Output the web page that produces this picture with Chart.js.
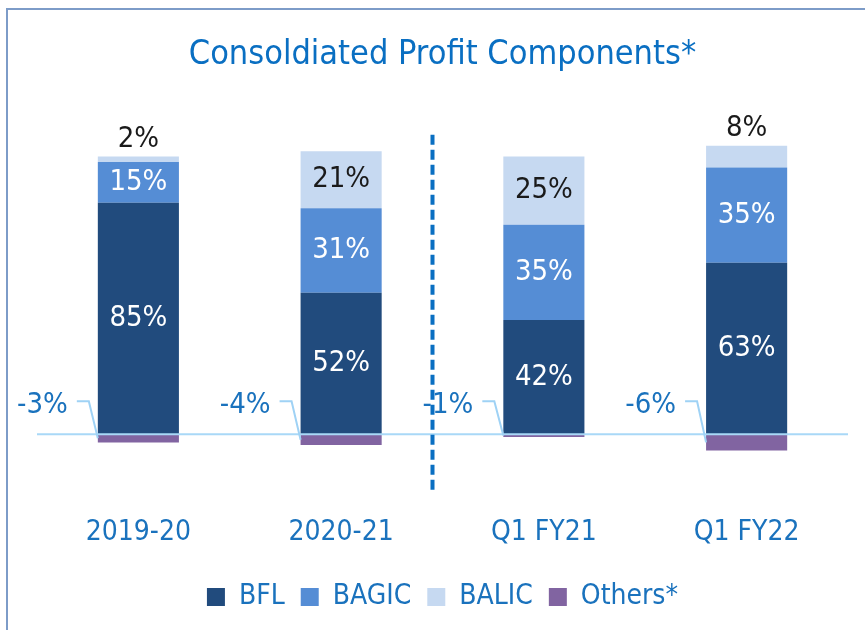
<!DOCTYPE html>
<html>
<head>
<meta charset="utf-8">
<script src="https://cdn.jsdelivr.net/npm/chart.js@4/dist/chart.umd.min.js"></script>
<style>
  html, body { margin: 0; padding: 0; background: #fff; overflow: hidden; }
  #frame {
    position: absolute; left: 6px; top: 8px; width: 900px; height: 700px;
    border-left: 2px solid #7d9cc8; border-top: 2px solid #7d9cc8;
  }
  #wrap { position: absolute; left: 0; top: 0; width: 865px; height: 630px; }
</style>
</head>
<body>
<div id="frame"></div>
<div id="wrap"><canvas id="profitChart" width="865" height="630"></canvas></div>
<script>
// chart data
const categories = ['2019-20', '2020-21', 'Q1 FY21', 'Q1 FY22'];
const bflValues = [85, 52, 42, 63];
const bagicValues = [15, 31, 35, 35];
const balicValues = [2, 21, 25, 8];
const othersValues = [-3, -4, -1, -6];

const FONT = "'DejaVu Sans Condensed', 'DejaVu Sans', sans-serif";
const BLUE_TEXT = '#1a72bd';

// labels inside bars, negative labels with leader lines, zero line, divider
const labelPlugin = {
  id: 'profitLabels',
  afterDatasetsDraw(chart) {
    const ctx = chart.ctx;
    const area = chart.chartArea;
    const yScale = chart.scales.y;
    const xScale = chart.scales.x;
    const zeroY = yScale.getPixelForValue(0);

    ctx.save();
    // zero line
    ctx.strokeStyle = '#a9d8f7';
    ctx.lineWidth = 2;
    ctx.beginPath();
    ctx.moveTo(area.left, zeroY);
    ctx.lineTo(area.right, zeroY);
    ctx.stroke();

    // dashed divider between annual and quarterly
    const midX = (xScale.getPixelForValue(1) + xScale.getPixelForValue(2)) / 2 - 10;
    ctx.strokeStyle = '#0a6fc2';
    ctx.lineWidth = 4;
    ctx.setLineDash([10, 5]);
    ctx.beginPath();
    ctx.moveTo(midX, area.top);
    ctx.lineTo(midX, area.bottom);
    ctx.stroke();
    ctx.setLineDash([]);

    ctx.font = '29px ' + FONT;
    ctx.textAlign = 'center';
    ctx.textBaseline = 'middle';

    chart.data.datasets.forEach((ds, di) => {
      const meta = chart.getDatasetMeta(di);
      meta.data.forEach((bar, i) => {
        const v = ds.data[i];
        const txt = v + '%';
        if (v < 0) {
          const left = bar.x - bar.width / 2;
          const ly = zeroY - 29;
          ctx.fillStyle = BLUE_TEXT;
          ctx.textAlign = 'right';
          ctx.fillText(txt, left - 30, ly);
          ctx.strokeStyle = '#9fd2f5';
          ctx.lineWidth = 2;
          ctx.beginPath();
          ctx.moveTo(left - 21, ly - 4);
          ctx.lineTo(left - 9, ly - 4);
          ctx.lineTo(left, (bar.y + bar.base) / 2);
          ctx.stroke();
          ctx.textAlign = 'center';
          return;
        }
        let y = (bar.y + bar.base) / 2;
        if (v < 10) y = bar.y - 17;
        ctx.fillStyle = di === 2 ? '#1a1a1a' : '#ffffff';
        ctx.fillText(txt, bar.x, y);
      });
    });
    ctx.restore();
  }
};

const ctx = document.getElementById('profitChart').getContext('2d');
new Chart(ctx, {
  type: 'bar',
  data: {
    labels: categories,
    datasets: [
      { label: 'BFL', data: bflValues, backgroundColor: '#214b7d' },
      { label: 'BAGIC', data: bagicValues, backgroundColor: '#558dd5' },
      { label: 'BALIC', data: balicValues, backgroundColor: '#c6d9f1' },
      { label: 'Others*', data: othersValues, backgroundColor: '#8164a1' }
    ]
  },
  options: {
    responsive: false,
    animation: false,
    maintainAspectRatio: false,
    layout: { padding: { left: 37, right: 17, top: 10, bottom: 9 } },
    datasets: { bar: { categoryPercentage: 1, barPercentage: 0.4, borderWidth: 0 } },
    plugins: {
      title: {
        display: true,
        text: 'Consoldiated Profit Components*',
        color: '#0a6fc2',
        font: { family: FONT, size: 34, weight: 'normal' },
        padding: { top: 25, bottom: 59 }
      },
      legend: {
        position: 'bottom',
        labels: {
          color: BLUE_TEXT,
          font: { family: FONT, size: 28 },
          boxWidth: 18,
          boxHeight: 18,
          padding: 16
        }
      },
      tooltip: { enabled: false }
    },
    scales: {
      x: {
        stacked: true,
        grid: { display: false },
        border: { display: false },
        ticks: { color: BLUE_TEXT, font: { family: FONT, size: 28 }, padding: 17 }
      },
      y: {
        stacked: true,
        display: false,
        min: -21,
        max: 110
      }
    }
  },
  plugins: [labelPlugin]
});
</script>
</body>
</html>
